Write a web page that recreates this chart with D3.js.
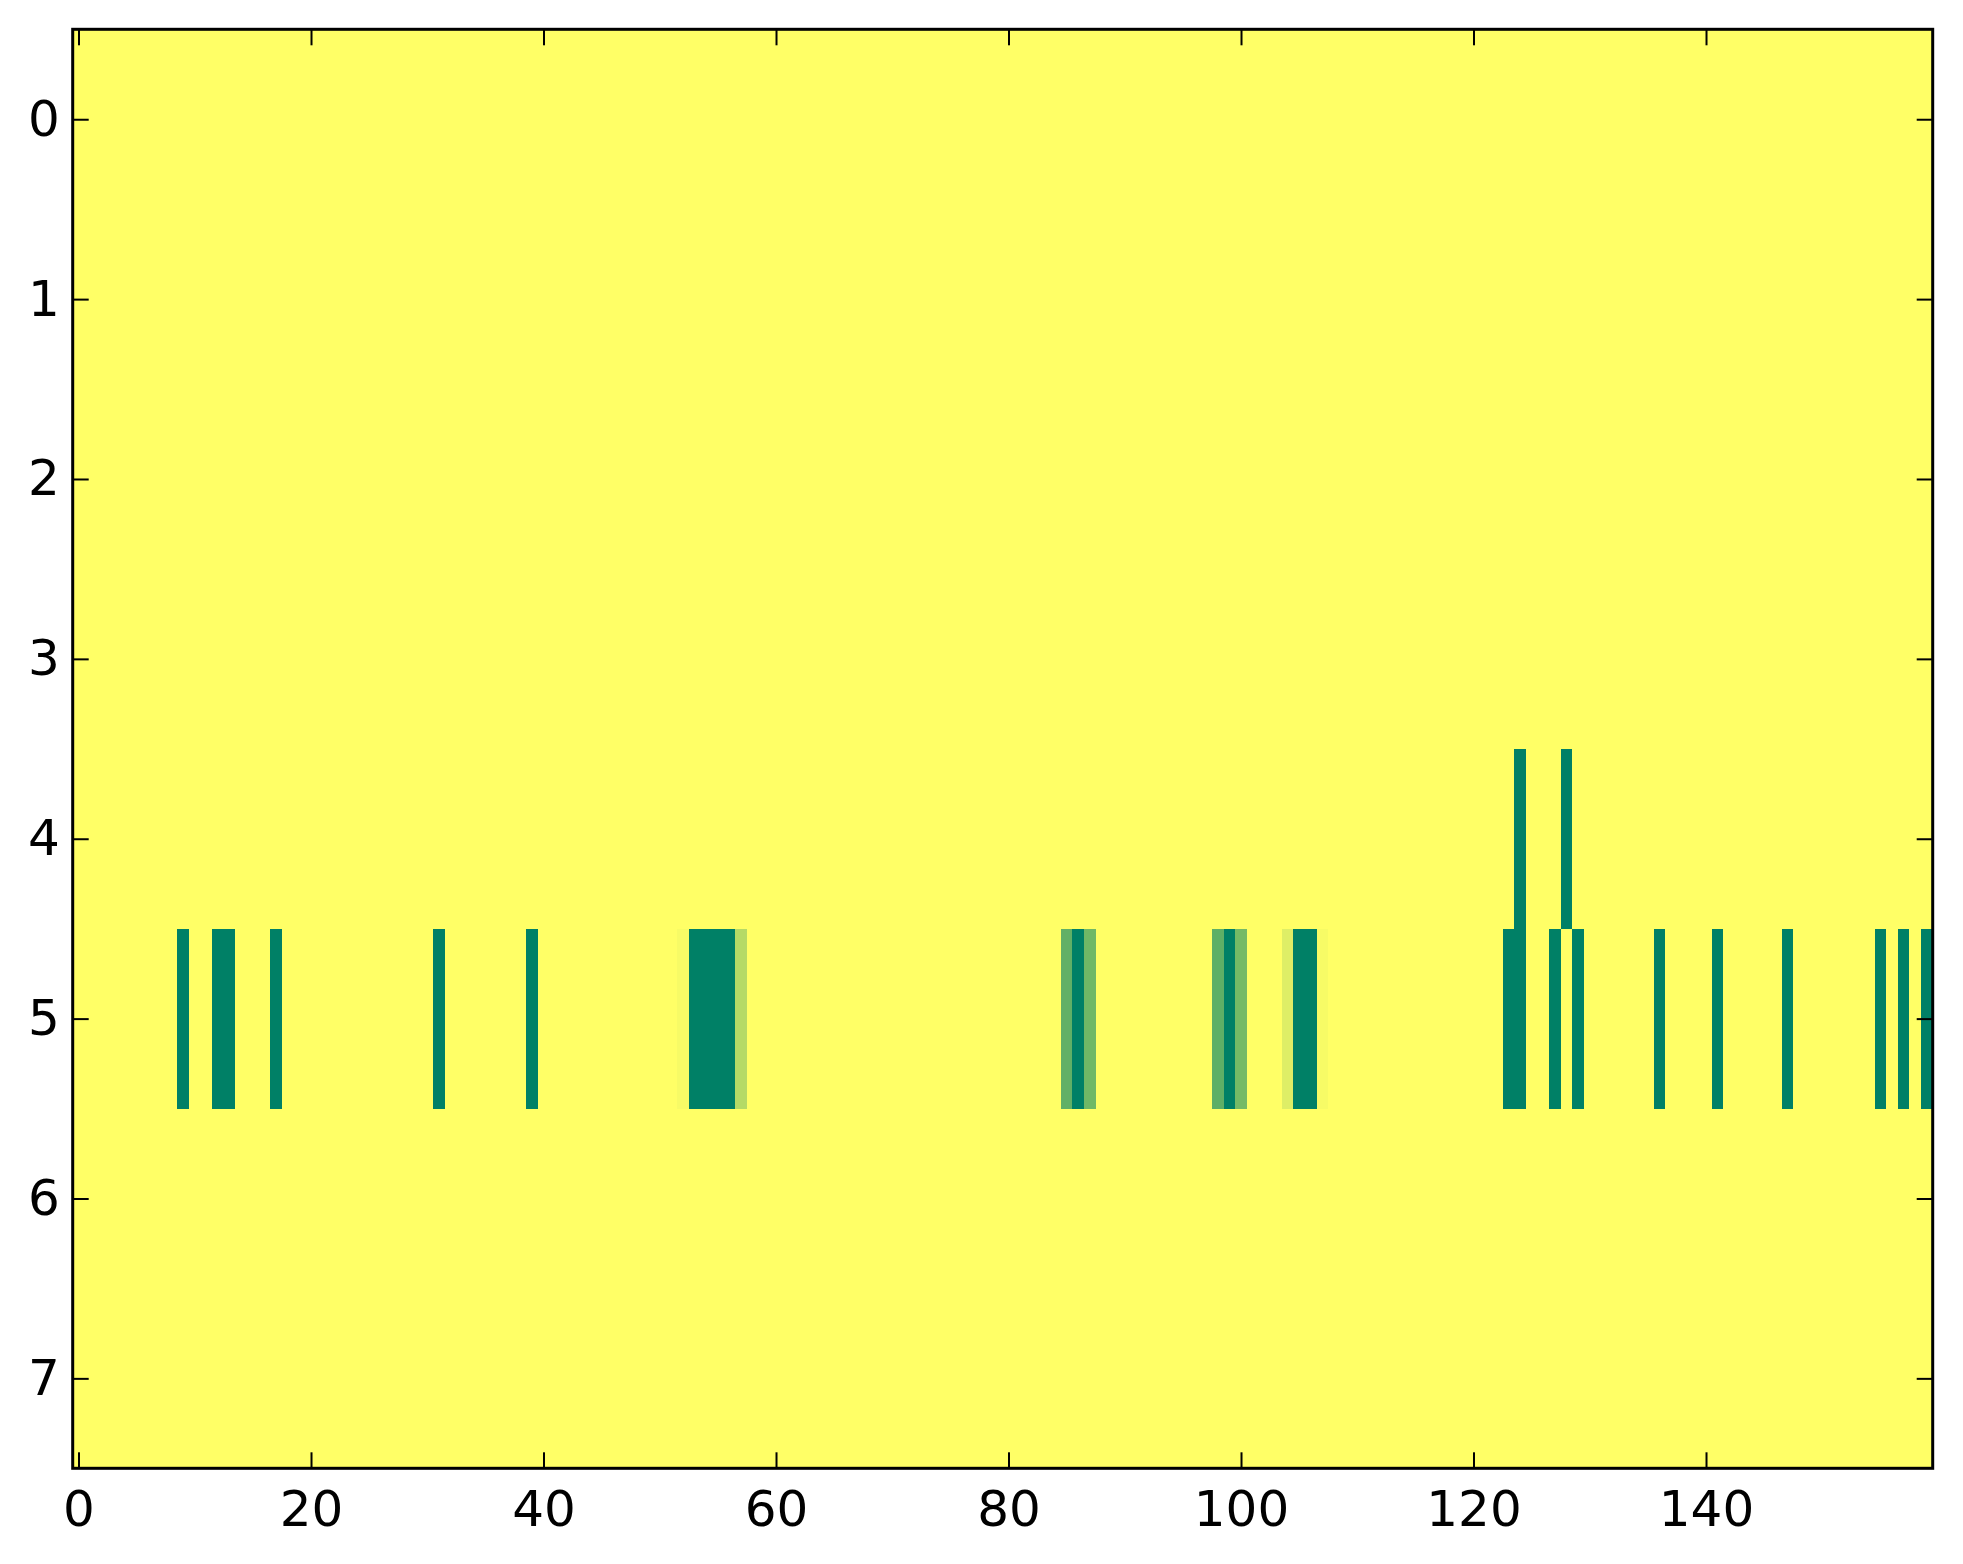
<!DOCTYPE html>
<html>
<head>
<meta charset="utf-8">
<script src="https://cdn.jsdelivr.net/npm/d3@7"></script>
<style>
  html, body { margin: 0; padding: 0; background: #fff; }
  svg { display: block; }
</style>
</head>
<body>
<script>
// ---- data ----
const nRows = 8;
const nCols = 160;
const baseValue = 1;
// row index 5 (the band of bars)
const row5Cols = [9, 12, 13, 17, 31, 39, 52, 53, 54, 55, 56, 57, 85, 86, 87, 98, 99, 100, 104, 105, 106, 107, 123, 124, 127, 129, 136, 141, 147, 155, 157, 159];
const row5Vals = [0, 0, 0, 0, 0, 0, 0.97, 0, 0, 0, 0, 0.71, 0.38, 0, 0.44, 0.37, 0, 0.46, 0.87, 0, 0, 0.97, 0, 0, 0, 0, 0, 0, 0, 0, 0, 0];
// row index 4
const row4Cols = [124, 128];
const row4Vals = [0, 0];
const xTicks = [0, 20, 40, 60, 80, 100, 120, 140];
const yTicks = [0, 1, 2, 3, 4, 5, 6, 7];

(function () {
  // build matrix
  const grid = [];
  for (let r = 0; r < nRows; r++) {
    grid.push(new Array(nCols).fill(baseValue));
  }
  row5Cols.forEach((c, i) => { grid[5][c] = row5Vals[i]; });
  row4Cols.forEach((c, i) => { grid[4][c] = row4Vals[i]; });
  const cells = [];
  grid.forEach((row, r) => row.forEach((v, c) => cells.push({ r, c, v })));

  // ---- layout ----
  const W = 1963, H = 1564;
  const pLeft = 72.7, pRight = 1932.7, pTop = 29.3, pBottom = 1468.3;

  const svg = d3.select("body").append("svg").attr("width", W).attr("height", H);

  const x = d3.scaleLinear().domain([-0.5, nCols - 0.5]).range([pLeft, pRight]);
  const y = d3.scaleLinear().domain([-0.5, nRows - 0.5]).range([pTop, pBottom]);
  // matplotlib "summer" colormap
  const color = d3.scaleLinear().domain([0, 1]).range(["#008066", "#ffff66"]).interpolate(d3.interpolateRgb);

  svg.append("g")
    .selectAll("rect")
    .data(cells)
    .join("rect")
    .attr("x", d => x(d.c - 0.5))
    .attr("y", d => y(d.r - 0.5))
    .attr("width", d => x(d.c + 0.5) - x(d.c - 0.5) + 0.4)
    .attr("height", d => y(d.r + 0.5) - y(d.r - 0.5) + 0.4)
    .attr("fill", d => color(d.v))
    .attr("shape-rendering", "crispEdges");

  const font = "'DejaVu Sans', sans-serif";
  const fs = 50;
  const tl = 16;

  function styleAxis(g, showLabels) {
    g.select(".domain").remove();
    g.selectAll(".tick line").attr("stroke", "#000").attr("stroke-width", 2);
    g.selectAll(".tick text").attr("font-family", font).attr("font-size", fs).attr("fill", "#000");
    if (!showLabels) g.selectAll(".tick text").remove();
  }

  svg.append("g").attr("transform", `translate(0,${pBottom})`)
    .call(d3.axisBottom(x).tickValues(xTicks).tickSizeInner(-tl).tickSizeOuter(0).tickPadding(22))
    .call(g => styleAxis(g, true));
  svg.append("g").attr("transform", `translate(0,${pTop})`)
    .call(d3.axisTop(x).tickValues(xTicks).tickSizeInner(-tl).tickSizeOuter(0))
    .call(g => styleAxis(g, false));
  svg.append("g").attr("transform", `translate(${pLeft},0)`)
    .call(d3.axisLeft(y).tickValues(yTicks).tickSizeInner(-tl).tickSizeOuter(0).tickPadding(13))
    .call(g => styleAxis(g, true));
  svg.append("g").attr("transform", `translate(${pRight},0)`)
    .call(d3.axisRight(y).tickValues(yTicks).tickSizeInner(-tl).tickSizeOuter(0))
    .call(g => styleAxis(g, false));

  svg.append("rect")
    .attr("x", pLeft).attr("y", pTop)
    .attr("width", pRight - pLeft).attr("height", pBottom - pTop)
    .attr("fill", "none").attr("stroke", "#000").attr("stroke-width", 3);
})();
</script>
</body>
</html>
